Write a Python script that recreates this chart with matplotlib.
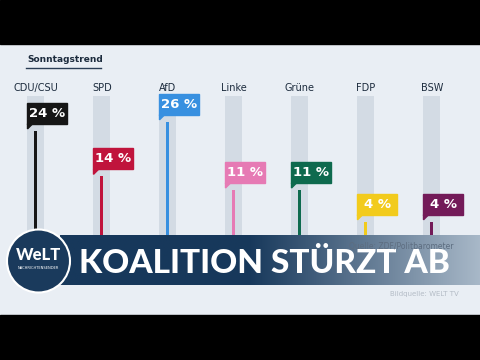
import matplotlib.pyplot as plt
import numpy as np
from matplotlib.patches import Rectangle, Polygon, Circle

parties = ["CDU/CSU", "SPD", "AfD", "Linke", "Grüne", "FDP", "BSW"]
values = [24, 14, 26, 11, 11, 4, 4]
colors = ["#161616", "#c0143c", "#3890e0", "#e67ab4", "#0e6a4e", "#f2cb1c", "#731a58"]
labels = [f"{v} %" for v in values]

bg = "#e9eef4"
track = "#d3dbe4"
navy = "#1c2b3d"

fig = plt.figure(figsize=(4.8, 3.6), dpi=100)
fig.patch.set_facecolor(bg)
ax = fig.add_axes([0, 0, 1, 1])
ax.set_facecolor(bg)

# pixel -> data mapping: x px = 36 + 66*i, baseline at y px 240, 4.545 px per point
pxx = 66.0
pxy = 4.545
ax.set_xlim(-36 / pxx, (480 - 36) / pxx)
ax.set_ylim(-120 / pxy, 240 / pxy)
ax.axis("off")

x = np.arange(len(parties))
track_top = (240 - 96) / pxy
ax.bar(x, track_top + 3, width=17 / pxx, bottom=-3, color=track, zorder=1)
ax.bar(x, values, width=3 / pxx, color=colors, zorder=2)

bw = 40 / pxx
bh = 21 / pxy
for i, (v, c, lab, p) in enumerate(zip(values, colors, labels, parties)):
    left = i - 8.5 / pxx
    bot = v + 7 / pxy
    ax.add_patch(Rectangle((left, bot), bw, bh, color=c, zorder=3))
    ax.add_patch(Polygon([(left, bot), (left + 5 / pxx, bot), (left, bot - 5 / pxy)],
                         color=c, zorder=3))
    ax.text(left + bw / 2, bot + bh / 2, lab, color="white", fontsize=9.5,
            fontweight="bold", ha="center", va="center", zorder=4)
    ax.text(i, (240 - 88) / pxy, p, color=navy, fontsize=7, ha="center", va="center")

# header
fig.text(27 / 480, 1 - 59 / 360, "Sonntagstrend", color=navy, fontsize=6.5,
         fontweight="bold", va="center")
ax.plot([26 / 480, 101 / 480], [1 - 68 / 360, 1 - 68 / 360], color="#2a3d55",
        lw=1, transform=fig.transFigure)

# banner with gradient
grad = np.linspace(0, 1, 256)
c0 = np.array([0x17, 0x38, 0x5b]) / 255
c1 = np.array([0xa8, 0xb8, 0xc8]) / 255
t = np.clip((grad - 0.45) / 0.55, 0, 1)
img = (c0[None, :] * (1 - t[:, None]) + c1[None, :] * t[:, None])[None, :, :]
bax = fig.add_axes([60 / 480, 1 - 285 / 360, 420 / 480, 50 / 360])
bax.imshow(img, aspect="auto", extent=[0, 1, 0, 1])
bax.axis("off")
bax.text(0.045, 0.24, "KOALITION STÜRZT AB", color="white", fontsize=24,
         fontweight="black", family="Lato", ha="left", va="baseline")

# logo and overlay
lax = fig.add_axes([0, 0, 1, 1])
lax.set_xlim(0, 480)
lax.set_ylim(360, 0)
lax.axis("off")
lax.add_patch(Circle((38.5, 261), 31.5, facecolor="#1a3a5c", edgecolor="white", lw=1.5))
lax.text(38.5, 255, "WeLT", color="white", fontsize=12, fontweight="black",
         family="Lato", ha="center", va="center")
lax.text(38.5, 268, "NACHRICHTENSENDER", color="white", fontsize=2.6,
         ha="center", va="center")
lax.text(349, 246, "Quelle: ZDF/Politbarometer", color="#5d6d80",
         fontsize=5.5, va="center")
lax.text(390, 294, "Bildquelle: WELT TV", color="#b4bcc6", fontsize=5, va="center")

# letterbox bars
lax.add_patch(Rectangle((0, 0), 480, 44, color="black"))
lax.add_patch(Rectangle((0, 315), 480, 45, color="black"))

fig.savefig("out.png", dpi=100, facecolor=bg)
